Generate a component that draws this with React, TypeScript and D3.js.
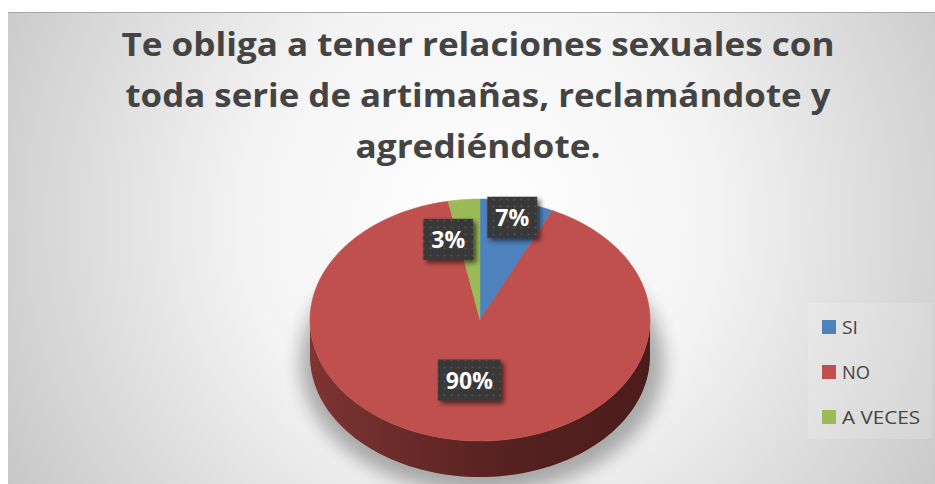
import React, { useEffect, useRef } from "react";
import * as d3 from "d3";

const titleLines = [
  "Te obliga a tener relaciones sexuales con",
  "toda serie de artimañas, reclamándote y",
  "agrediéndote.",
];
const categories = ["SI", "NO", "A VECES"];
const values = [7, 90, 3];
const colors = ["#4F81BD", "#C0504D", "#9BBB59"];
const sideColors = [
  ["#2c4a6e", "#223a57"],
  ["#7e3432", "#4a1c1b"],
  ["#5e7436", "#465729"],
];
// label placement (fraction of radius, horizontal nudge)
const labelRadius = [0.87, 0.5, 0.67];
const labelNudge = [0, 0, -21];

const W = 935;
const H = 484;

const App = () => {
  const svgRef = useRef<SVGSVGElement>(null);

  useEffect(() => {
    const svg = d3.select(svgRef.current);
    svg.selectAll("*").remove();

    const defs = svg.append("defs");
    const bg = defs
      .append("radialGradient")
      .attr("id", "bg")
      .attr("gradientUnits", "userSpaceOnUse")
      .attr("cx", 480)
      .attr("cy", 220)
      .attr("r", 580);
    bg.append("stop").attr("offset", "0").attr("stop-color", "#ffffff");
    bg.append("stop").attr("offset", "0.4").attr("stop-color", "#f4f4f4");
    bg.append("stop").attr("offset", "1").attr("stop-color", "#c2c2c2");

    const pat = defs
      .append("pattern")
      .attr("id", "dots")
      .attr("patternUnits", "userSpaceOnUse")
      .attr("width", 7)
      .attr("height", 7);
    pat.append("rect").attr("width", 7).attr("height", 7).attr("fill", "#393939");
    pat.append("circle").attr("cx", 3.5).attr("cy", 3.5).attr("r", 1.1).attr("fill", "#4f4f4f");

    const blur = defs.append("filter").attr("id", "pieShadow").attr("x", "-30%").attr("y", "-30%").attr("width", "160%").attr("height", "160%");
    blur.append("feGaussianBlur").attr("stdDeviation", 9);

    const boxSh = defs.append("filter").attr("id", "boxShadow").attr("x", "-30%").attr("y", "-30%").attr("width", "160%").attr("height", "160%");
    boxSh.append("feGaussianBlur").attr("in", "SourceAlpha").attr("stdDeviation", 2.5);
    boxSh.append("feOffset").attr("dx", 3).attr("dy", 3).attr("result", "b");
    boxSh.append("feComponentTransfer").append("feFuncA").attr("type", "linear").attr("slope", 0.6);
    const merge = boxSh.append("feMerge");
    merge.append("feMergeNode");
    merge.append("feMergeNode").attr("in", "SourceGraphic");

    // chart frame
    svg
      .append("rect")
      .attr("x", 8)
      .attr("y", 12)
      .attr("width", W - 8)
      .attr("height", H - 12)
      .attr("fill", "url(#bg)");
    svg
      .append("line")
      .attr("x1", 8)
      .attr("x2", W)
      .attr("y1", 12.5)
      .attr("y2", 12.5)
      .attr("stroke", "#a8a8a8")
      .attr("stroke-width", 1);

    // title
    const titleWidths = [713, 705, 245];
    svg
      .append("g")
      .selectAll("text")
      .data(titleLines)
      .join("text")
      .attr("x", 478)
      .attr("y", (d, i) => 56 + i * 51)
      .attr("text-anchor", "middle")
      .attr("font-family", "'Open Sans', sans-serif")
      .attr("font-weight", 700)
      .attr("font-size", 33)
      .attr("fill", "#444444")
      .attr("textLength", (d, i) => titleWidths[i])
      .attr("lengthAdjust", "spacingAndGlyphs")
      .text((d) => d);

    // pie geometry
    const cx = 480;
    const cy = 320;
    const rx = 170;
    const ry = 121;
    const depth = 36;
    const pt = (a: number, dy = 0) => [cx + rx * Math.sin(a), cy - ry * Math.cos(a) + dy];

    const arcs = d3.pie<number>().sort(null).value((d) => d)(values);

    // shadow
    svg
      .append("ellipse")
      .attr("cx", cx + 2)
      .attr("cy", cy + depth + 6)
      .attr("rx", rx + 12)
      .attr("ry", ry + 10)
      .attr("fill", "#000")
      .attr("opacity", 0.3)
      .attr("filter", "url(#pieShadow)");

    const g = svg.append("g");

    // side walls (front half: angles between PI/2 and 3PI/2)
    arcs.forEach((a, i) => {
      const s = Math.max(a.startAngle, Math.PI / 2);
      const e = Math.min(a.endAngle, (3 * Math.PI) / 2);
      if (e <= s) return;
      const gid = `side${i}`;
      const lg = defs
        .append("linearGradient")
        .attr("id", gid)
        .attr("gradientUnits", "userSpaceOnUse")
        .attr("x1", cx - rx)
        .attr("x2", cx + rx)
        .attr("y1", 0)
        .attr("y2", 0);
      lg.append("stop").attr("offset", "0").attr("stop-color", sideColors[i][0]);
      lg.append("stop").attr("offset", "0.55").attr("stop-color", d3.interpolateRgb(sideColors[i][0], sideColors[i][1])(0.75));
      lg.append("stop").attr("offset", "1").attr("stop-color", sideColors[i][1]);
      const steps = 80;
      const top = d3.range(steps + 1).map((k) => pt(s + ((e - s) * k) / steps));
      const bot = d3.range(steps + 1).map((k) => pt(e - ((e - s) * k) / steps, depth));
      g.append("path")
        .attr("d", d3.line()([...top, ...bot] as [number, number][]) + "Z")
        .attr("fill", `url(#${gid})`);
    });

    // top faces
    arcs.forEach((a, i) => {
      const steps = Math.max(4, Math.ceil(((a.endAngle - a.startAngle) / (2 * Math.PI)) * 200));
      const pts = d3.range(steps + 1).map((k) => pt(a.startAngle + ((a.endAngle - a.startAngle) * k) / steps));
      g.append("path")
        .attr("d", d3.line()([[cx, cy], ...pts] as [number, number][]) + "Z")
        .attr("fill", colors[i])
        .attr("stroke", colors[i])
        .attr("stroke-width", 0.5);
    });

    // labels
    const lab = svg.append("g");
    arcs.forEach((a, i) => {
      const mid = (a.startAngle + a.endAngle) / 2;
      const f = labelRadius[i];
      const x = cx + rx * f * Math.sin(mid) + labelNudge[i];
      const y = cy - ry * f * Math.cos(mid);
      const txt = `${values[i]}%`;
      const bw = txt.length > 2 ? 63 : 50;
      const bh = 41;
      lab
        .append("rect")
        .attr("x", x - bw / 2)
        .attr("y", y - bh / 2)
        .attr("width", bw)
        .attr("height", bh)
        .attr("fill", "url(#dots)")
        .attr("filter", "url(#boxShadow)");
      lab
        .append("text")
        .attr("x", x)
        .attr("y", y + 8.5)
        .attr("text-anchor", "middle")
        .attr("font-family", "'Open Sans', sans-serif")
        .attr("font-weight", 700)
        .attr("font-size", 23)
        .attr("fill", "#ffffff")
        .text(txt);
    });

    // legend
    const leg = svg.append("g");
    leg
      .append("rect")
      .attr("x", 808)
      .attr("y", 303)
      .attr("width", 124)
      .attr("height", 136)
      .attr("fill", "#ffffff")
      .attr("opacity", 0.15);
    const item = leg
      .selectAll("g")
      .data(categories)
      .join("g")
      .attr("transform", (d, i) => `translate(822,${320 + i * 45})`);
    item
      .append("rect")
      .attr("width", 14)
      .attr("height", 14)
      .attr("fill", (d, i) => colors[i]);
    item
      .append("text")
      .attr("x", 20)
      .attr("y", 14)
      .attr("font-family", "'Open Sans', sans-serif")
      .attr("font-size", 19)
      .attr("fill", "#444444")
      .attr("textLength", (d) => (d.length > 2 ? 78 : d.length > 1 && d !== "SI" ? 28 : 16))
      .attr("lengthAdjust", "spacingAndGlyphs")
      .text((d) => d);
  }, []);

  return (
    <svg
      ref={svgRef}
      width={W}
      height={H}
      style={{ position: "absolute", left: 0, top: 0 }}
    ></svg>
  );
};

export default App;
